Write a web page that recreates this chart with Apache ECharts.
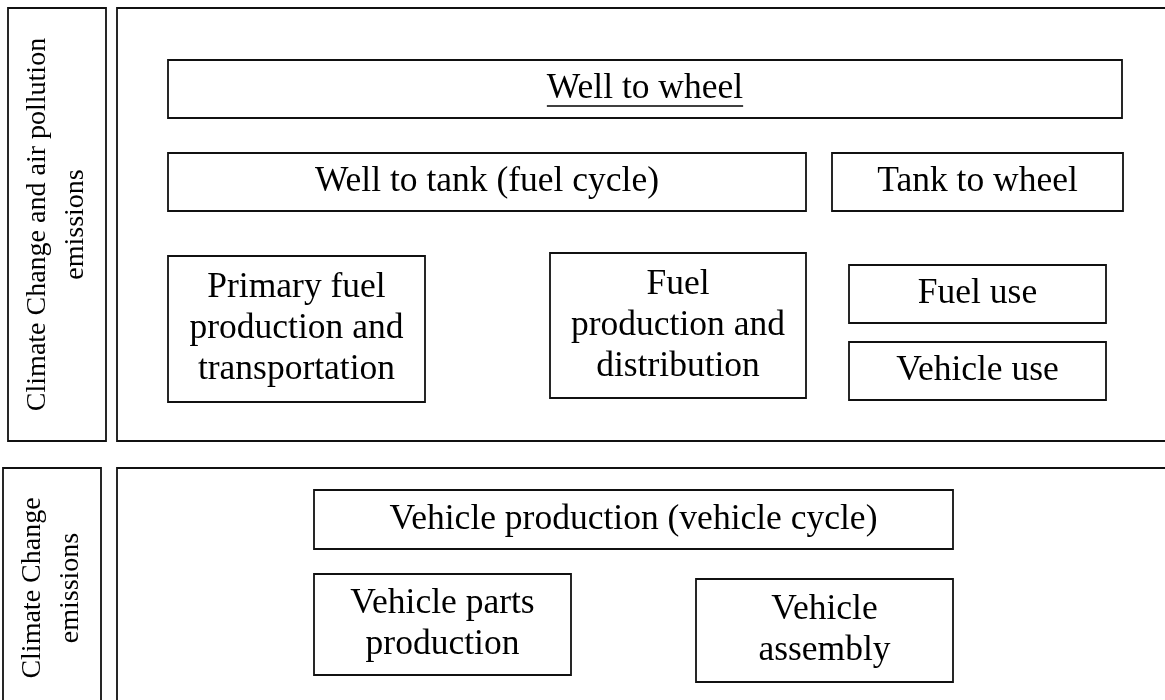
<!DOCTYPE html>
<html>
<head>
<meta charset="utf-8">
<script src="https://cdn.jsdelivr.net/npm/echarts@6/dist/echarts.min.js"></script>
<style>
  html, body { margin: 0; padding: 0; background: #fff; }
  #main { width: 1165px; height: 700px; }
</style>
</head>
<body>
<div id="main"></div>
<script>
// box texts, one per box
var boxLabels = [
    'Climate Change and air pollution\nemissions',
    '',
    'Well to wheel',
    'Well to tank (fuel cycle)',
    'Tank to wheel',
    'Primary fuel\nproduction and\ntransportation',
    'Fuel\nproduction and\ndistribution',
    'Fuel use',
    'Vehicle use',
    'Climate Change\nemissions',
    '',
    'Vehicle production (vehicle cycle)',
    'Vehicle parts\nproduction',
    'Vehicle\nassembly'
];
// box extents in diagram units: [left, top, right, bottom]
var boxExtents = [
    [8, 8, 106, 441],
    [117, 8, 1172, 441],
    [168, 60, 1122, 118],
    [168, 153, 806, 211],
    [832, 153, 1123, 211],
    [168, 256, 425, 402],
    [550, 253, 806, 398],
    [849, 265, 1106, 323],
    [849, 342, 1106, 400],
    [3, 468, 101, 708],
    [117, 468, 1172, 712],
    [314, 490, 953, 549],
    [314, 574, 571, 675],
    [696, 579, 953, 682]
];
// which boxes have vertical text / underlined text
var verticalBoxes = [0, 9];
var underlinedBoxes = [2];

var chart = echarts.init(document.getElementById('main'));

var FONT_H = '35.5px "Liberation Serif"';
var FONT_V = '28px "Liberation Serif"';

// measure text width for the underline
var measureCtx = document.createElement('canvas').getContext('2d');
function textWidth(txt, font) {
    measureCtx.font = font;
    return measureCtx.measureText(txt).width;
}

function renderBox(params, api) {
    var idx = params.dataIndex;
    var p0 = api.coord([api.value(0), api.value(1)]);
    var p1 = api.coord([api.value(2), api.value(3)]);
    var x = Math.min(p0[0], p1[0]), y = Math.min(p0[1], p1[1]);
    var w = Math.abs(p1[0] - p0[0]), h = Math.abs(p1[1] - p0[1]);
    var cx = x + w / 2, cy = y + h / 2;
    var label = boxLabels[idx];
    var children = [{
        type: 'rect',
        shape: { x: x, y: y, width: w, height: h },
        style: { fill: 'none', stroke: '#111', lineWidth: 1.8 }
    }];
    if (label) {
        var vertical = verticalBoxes.indexOf(idx) >= 0;
        children.push({
            type: 'text',
            x: cx,
            y: cy,
            rotation: vertical ? Math.PI / 2 : 0,
            style: {
                text: label,
                x: 0,
                y: 0,
                align: 'center',
                verticalAlign: 'middle',
                font: vertical ? FONT_V : FONT_H,
                lineHeight: vertical ? 38 : 41,
                fill: '#000'
            }
        });
        if (underlinedBoxes.indexOf(idx) >= 0) {
            var tw = textWidth(label, FONT_H);
            children.push({
                type: 'line',
                shape: { x1: cx - tw / 2, y1: cy + 17, x2: cx + tw / 2, y2: cy + 17 },
                style: { stroke: '#000', lineWidth: 1.5 }
            });
        }
    }
    return { type: 'group', children: children };
}

var option = {
    backgroundColor: '#fff',
    animation: false,
    grid: { left: 0, right: 0, top: 0, bottom: 0 },
    xAxis: { type: 'value', min: 0, max: 1165, show: false },
    yAxis: { type: 'value', min: 0, max: 700, inverse: true, show: false },
    series: [{
        type: 'custom',
        renderItem: renderBox,
        clip: false,
        data: boxExtents
    }]
};
chart.setOption(option);
</script>
</body>
</html>
